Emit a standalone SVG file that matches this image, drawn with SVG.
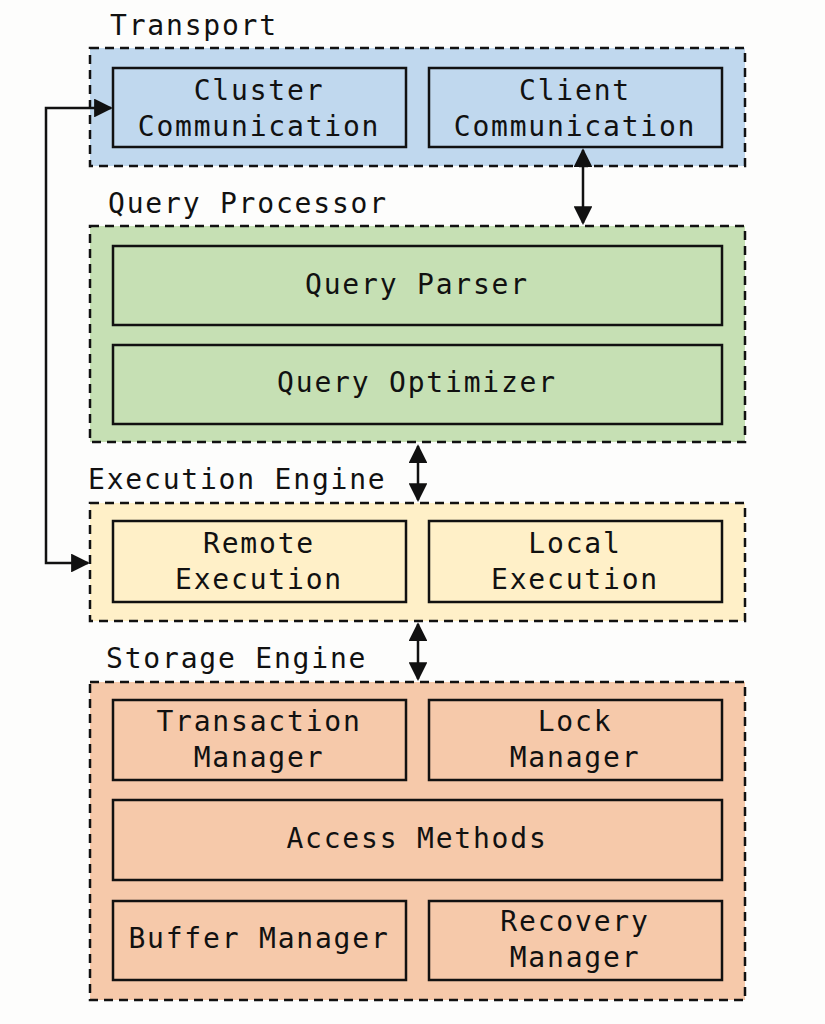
<svg xmlns="http://www.w3.org/2000/svg" width="825" height="1024" viewBox="0 0 825 1024">
<style>
text{font-family:"DejaVu Sans Mono","Liberation Mono",monospace;font-size:28px;fill:#111;letter-spacing:1.8px}
.m{text-anchor:middle}
.g{stroke:#111;stroke-width:2.5;stroke-dasharray:9 6}
.b{stroke:#111;stroke-width:2.5}
.blue{fill:#c0d8ee}.green{fill:#c6e0b4}.yellow{fill:#fff0c8}.orange{fill:#f6c9aa}
.c{fill:none;stroke:#111;stroke-width:2.5}
</style>
<defs><marker id="a" viewBox="0 0 10 10" refX="9" refY="5" markerWidth="7.5" markerHeight="7.5" orient="auto-start-reverse"><path d="M0,0L10,5L0,10z" fill="#111"/></marker></defs>
<rect width="825" height="1024" fill="#fdfdfc"/>
<g id="transport"><rect class="g blue" x="90" y="48" width="655" height="118"/><text x="110" y="35">Transport</text></g>
<g id="cluster"><rect class="b blue" x="113" y="68" width="293" height="79"/><text class="m" x="259" y="100">Cluster</text><text class="m" x="259" y="136">Communication</text></g>
<g id="client"><rect class="b blue" x="429" y="68" width="293" height="79"/><text class="m" x="575" y="100">Client</text><text class="m" x="575" y="136">Communication</text></g>
<g id="qp"><rect class="g green" x="90" y="226" width="655" height="216"/><text x="108" y="213">Query Processor</text></g>
<g id="parser"><rect class="b green" x="113" y="246" width="609" height="79"/><text class="m" x="417" y="294">Query Parser</text></g>
<g id="optimizer"><rect class="b green" x="113" y="345" width="609" height="79"/><text class="m" x="417" y="392">Query Optimizer</text></g>
<g id="exec"><rect class="g yellow" x="90" y="503" width="655" height="118"/><text x="88" y="489">Execution Engine</text></g>
<g id="remote"><rect class="b yellow" x="113" y="521" width="293" height="81"/><text class="m" x="259" y="553">Remote</text><text class="m" x="259" y="589">Execution</text></g>
<g id="local"><rect class="b yellow" x="429" y="521" width="293" height="81"/><text class="m" x="575" y="553">Local</text><text class="m" x="575" y="589">Execution</text></g>
<g id="storage"><rect class="g orange" x="90" y="682" width="655" height="318"/><text x="106" y="668">Storage Engine</text></g>
<g id="txn"><rect class="b orange" x="113" y="700" width="293" height="80"/><text class="m" x="259" y="731">Transaction</text><text class="m" x="259" y="767">Manager</text></g>
<g id="lock"><rect class="b orange" x="429" y="700" width="293" height="80"/><text class="m" x="575" y="731">Lock</text><text class="m" x="575" y="767">Manager</text></g>
<g id="access"><rect class="b orange" x="113" y="800" width="609" height="80"/><text class="m" x="417" y="848">Access Methods</text></g>
<g id="buffer"><rect class="b orange" x="113" y="901" width="293" height="79"/><text class="m" x="259" y="948">Buffer Manager</text></g>
<g id="recovery"><rect class="b orange" x="429" y="901" width="293" height="79"/><text class="m" x="575" y="931">Recovery</text><text class="m" x="575" y="967">Manager</text></g>
<g id="connectors">
<line class="c" x1="583" y1="150" x2="583" y2="223" marker-start="url(#a)" marker-end="url(#a)"/>
<line class="c" x1="418" y1="446" x2="418" y2="500" marker-start="url(#a)" marker-end="url(#a)"/>
<line class="c" x1="418" y1="624" x2="418" y2="679" marker-start="url(#a)" marker-end="url(#a)"/>
<path class="c" d="M111,108H46V563H88" marker-start="url(#a)" marker-end="url(#a)"/>
</g>
</svg>
